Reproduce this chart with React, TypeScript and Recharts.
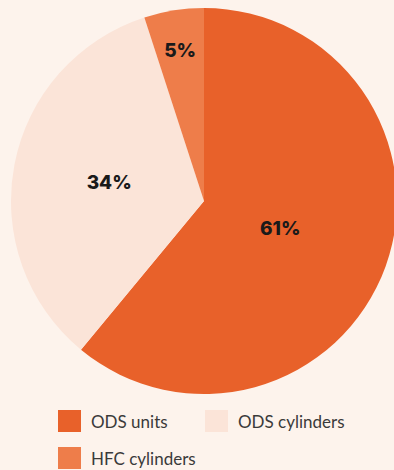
import { PieChart, Pie, Cell, Legend } from "recharts";

const categories = ["ODS units", "ODS cylinders", "HFC cylinders"];
const shares = [61, 34, 5];
const colors = ["#e8612a", "#fbe4d8", "#ee7d4a"];
// how far out (as a fraction of radius) each percent label sits
const labelRadius = [0.42, 0.5, 0.79];

const data = categories.map((name, i) => ({ name, value: shares[i] }));

const RADIAN = Math.PI / 180;

function renderLabel(props: any) {
  const { cx, cy, midAngle, outerRadius, index, value } = props;
  const r = outerRadius * labelRadius[index];
  const x = cx + r * Math.cos(-midAngle * RADIAN);
  const y = cy + r * Math.sin(-midAngle * RADIAN);
  return (
    <text
      x={x}
      y={y}
      fill="#1a1a1a"
      textAnchor="middle"
      dominantBaseline="central"
      fontFamily="Inter, sans-serif"
      fontWeight={800}
      fontSize={19}
    >
      {value}%
    </text>
  );
}

function LegendBox() {
  const item = (i: number, left: number, top: number) => (
    <div
      key={i}
      style={{ position: "absolute", left, top, display: "flex", alignItems: "center" }}
    >
      <span
        style={{ width: 23, height: 22, background: colors[i], display: "inline-block" }}
      />
      <span style={{ marginLeft: 10, fontSize: 17, color: "#3a3a3a" }}>{categories[i]}</span>
    </div>
  );
  return (
    <div style={{ position: "relative", width: 394, height: 70, fontFamily: "Lato, sans-serif" }}>
      {item(0, 58, 0)}
      {item(1, 205, 0)}
      {item(2, 58, 37)}
    </div>
  );
}

export default function App() {
  return (
    <div
      style={{
        position: "fixed",
        left: 0,
        top: 0,
        width: 394,
        height: 470,
        background: "#fdf3ec",
        overflow: "hidden",
      }}
    >
      <PieChart width={394} height={470} margin={{ top: 0, right: 0, bottom: 0, left: 0 }}>
        <Pie
          data={data}
          dataKey="value"
          nameKey="name"
          cx={204}
          cy={201}
          outerRadius={193}
          startAngle={90}
          endAngle={-270}
          stroke="none"
          label={renderLabel}
          labelLine={false}
          isAnimationActive={false}
        >
          {data.map((d, i) => (
            <Cell key={d.name} fill={colors[i]} />
          ))}
        </Pie>
        <Legend
          content={() => <LegendBox />}
          wrapperStyle={{ position: "absolute", left: 0, top: 410, width: 394 }}
        />
      </PieChart>
    </div>
  );
}
